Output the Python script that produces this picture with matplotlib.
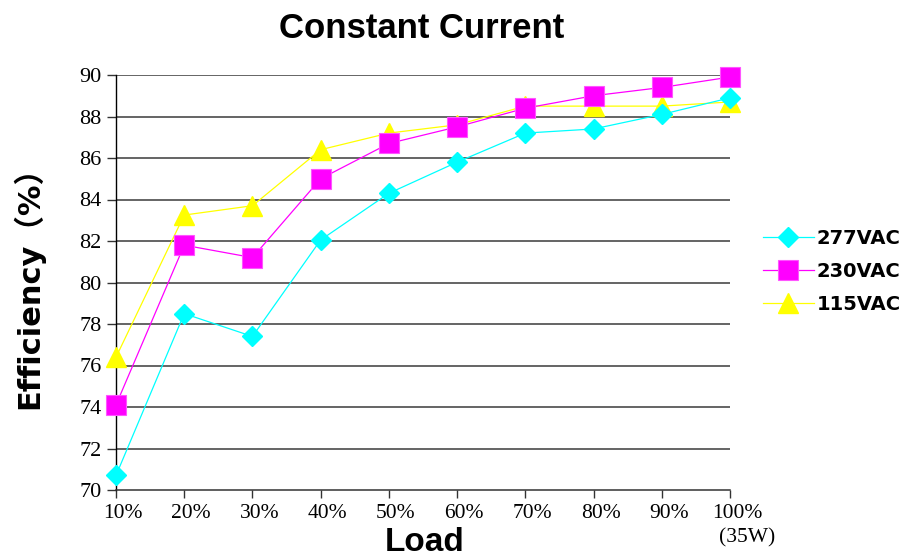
import matplotlib
matplotlib.use("Agg")
import matplotlib.pyplot as plt
import matplotlib.transforms as mtransforms

# efficiency readings at each load step
load = [10, 20, 30, 40, 50, 60, 70, 80, 90, 100]
load_labels = ["10%", "20%", "30%", "40%", "50%", "60%", "70%", "80%", "90%", "100%"]
eff_277 = [70.7, 78.5, 77.4, 82.05, 84.3, 85.8, 87.2, 87.4, 88.1, 88.9]
eff_230 = [74.1, 81.8, 81.2, 85.0, 86.7, 87.5, 88.4, 89.0, 89.4, 89.9]
eff_115 = [76.4, 83.25, 83.7, 86.4, 87.2, 87.6, 88.5, 88.5, 88.5, 88.7]
y_ticks = [70, 72, 74, 76, 78, 80, 82, 84, 86, 88, 90]

W, H = 906, 559
fig = plt.figure(figsize=(W / 100, H / 100), dpi=100)
ax = fig.add_axes([116 / W, 69 / H, 614 / W, 415 / H])

serif = "Liberation Serif"
sans = "Liberation Sans"

# yellow first, then magenta, cyan on top (as in the original)
l115, = ax.plot(load, eff_115, color="#FFFF00", lw=0.9, marker="^", ms=14,
                mec="#FFFF00", label="115VAC", zorder=3, clip_on=False)
l230, = ax.plot(load, eff_230, color="#FF00FF", lw=0.9, marker="s", ms=15,
                mec="#FF55FF", mew=0.8, label="230VAC", zorder=4, clip_on=False)
l277, = ax.plot(load, eff_277, color="#00FFFF", lw=0.9, marker="D", ms=10.5,
                mec="#00FFFF", label="277VAC", zorder=5, clip_on=False)

ax.set_xlim(10, 100)
ax.set_ylim(70, 90)
ax.set_yticks(y_ticks)
ax.set_xticks(load)
ax.set_xticklabels(load_labels)

for y in y_ticks[1:]:
    ax.axhline(y, color="#3a3a3a", lw=1.1, zorder=1)

for s in ["top", "right"]:
    ax.spines[s].set_visible(False)
ax.spines["left"].set_color("black")
ax.spines["left"].set_linewidth(1.0)
ax.spines["bottom"].set_color("#333333")
ax.spines["bottom"].set_linewidth(1.1)

ax.tick_params(axis="y", direction="out", length=6.5, width=1.0, color="#333333",
               pad=4, labelsize=16)
ax.tick_params(axis="x", direction="out", length=6, width=1.0, color="#333333",
               pad=4, labelsize=15.5)
for lab in ax.get_xticklabels() + ax.get_yticklabels():
    lab.set_fontfamily(serif)

# x tick labels sit a bit right of their ticks in the original
shift = mtransforms.ScaledTranslation(7 / 100, 0, fig.dpi_scale_trans)
for lab in ax.get_xticklabels():
    lab.set_transform(lab.get_transform() + shift)

fig.text(747 / W, 1 - 538 / H, "(35W)", ha="center", va="center",
         fontsize=15.5, family=serif)

fig.text(422 / W, 1 - 28 / H, "Constant Current", ha="center", va="center",
         fontsize=25, fontweight="bold", family=sans)
fig.text(28 / W, 1 - 280 / H, "Efficiency（%）", rotation=90, ha="center",
         va="center", fontsize=22, fontweight="bold",
         family=["DejaVu Sans", "Noto Sans CJK SC"])
fig.text(425 / W, 1 - 558 / H, "Load", ha="center", va="bottom",
         fontsize=24, fontweight="bold", family=sans)

leg = fig.legend(handles=[l277, l230, l115], loc="upper left",
                 bbox_to_anchor=(763 / W, 1 - 229 / H), frameon=False,
                 borderpad=0, borderaxespad=0, handlelength=2.6,
                 handletextpad=0.15, labelspacing=0.72, numpoints=1,
                 prop={"family": "DejaVu Sans", "weight": "bold", "size": 14})

fig.savefig("out.png", dpi=100)
